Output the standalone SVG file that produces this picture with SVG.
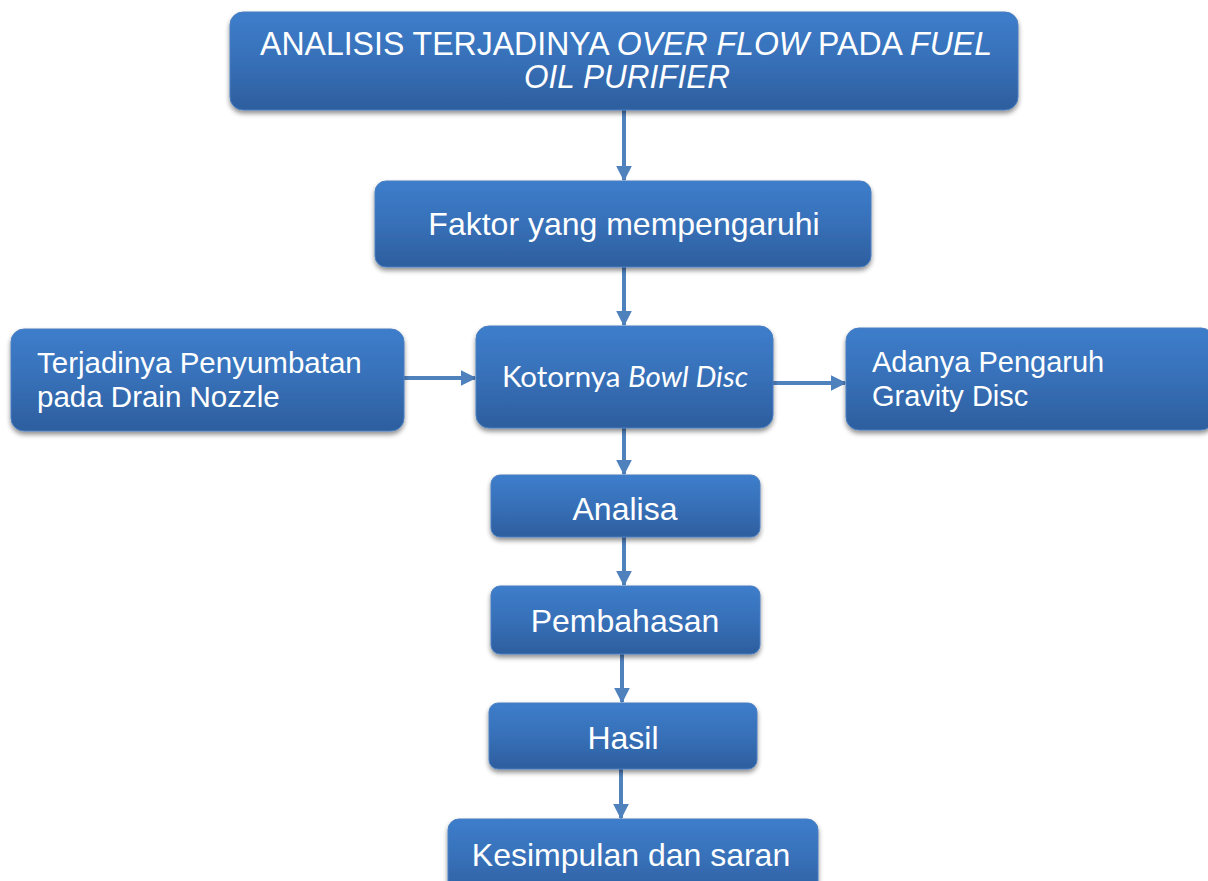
<svg xmlns="http://www.w3.org/2000/svg" width="1208" height="881" viewBox="0 0 1208 881">
  <defs>
    <linearGradient id="boxFill" x1="0" y1="0" x2="0" y2="1">
      <stop offset="0" stop-color="#3d7dcb"/>
      <stop offset="0.5" stop-color="#3770b8"/>
      <stop offset="1" stop-color="#2d5e9e"/>
    </linearGradient>
    <filter id="shadow" x="-10%" y="-20%" width="120%" height="150%">
      <feGaussianBlur in="SourceAlpha" stdDeviation="2.5"/>
      <feOffset dx="0" dy="3" result="b"/>
      <feComponentTransfer><feFuncA type="linear" slope="0.45"/></feComponentTransfer>
      <feMerge><feMergeNode/><feMergeNode in="SourceGraphic"/></feMerge>
    </filter>
    <marker id="arrow" viewBox="0 0 10 10" refX="9" refY="5" markerWidth="4" markerHeight="4" orient="auto" markerUnits="strokeWidth">
      <path d="M0,0 L10,5 L0,10 z" fill="#4f81bd"/>
    </marker>
  </defs>
  <style>
    .box { fill: url(#boxFill); stroke: #4a7fc0; stroke-width: 1; filter: url(#shadow); }
    .t { fill: #ffffff; font-family: "Liberation Sans", Arial, sans-serif; }
    .c { fill: #ffffff; font-family: Lato, "Open Sans", sans-serif; }
    .link { stroke: #4f81bd; stroke-width: 4; fill: none; marker-end: url(#arrow); }
  </style>
  <rect width="1208" height="881" fill="#ffffff"/>

  <g id="connectors">
    <line class="link" x1="624" y1="110" x2="624" y2="180"/>
    <line class="link" x1="624" y1="267" x2="624" y2="325"/>
    <line class="link" x1="404" y1="378" x2="475" y2="378"/>
    <line class="link" x1="773" y1="383" x2="845" y2="383"/>
    <line class="link" x1="624" y1="428" x2="624" y2="474"/>
    <line class="link" x1="624" y1="537" x2="624" y2="585"/>
    <line class="link" x1="622" y1="654" x2="622" y2="702"/>
    <line class="link" x1="621" y1="769" x2="621" y2="818"/>
  </g>

  <g id="node-title">
    <rect class="box" x="230" y="12" width="788" height="98" rx="13"/>
    <text class="t" font-size="33" text-anchor="middle" x="626" y="55" textLength="732" lengthAdjust="spacingAndGlyphs">ANALISIS TERJADINYA <tspan font-style="italic">OVER FLOW</tspan> PADA <tspan font-style="italic">FUEL</tspan></text>
    <text class="t" font-size="33" font-style="italic" text-anchor="middle" x="627" y="88" textLength="206" lengthAdjust="spacingAndGlyphs">OIL PURIFIER</text>
  </g>

  <g id="node-faktor">
    <rect class="box" x="375" y="181" width="496" height="86" rx="11"/>
    <text class="t" font-size="32" text-anchor="middle" x="624" y="235">Faktor yang mempengaruhi</text>
  </g>

  <g id="node-penyumbatan">
    <rect class="box" x="11" y="329" width="393" height="102" rx="13"/>
    <text class="t" font-size="29.5" x="37" y="373">Terjadinya Penyumbatan</text>
    <text class="t" font-size="29.5" x="37" y="407">pada Drain Nozzle</text>
  </g>

  <g id="node-kotornya">
    <rect class="box" x="476" y="326" width="297" height="102" rx="13"/>
    <text class="c" font-size="29.5" text-anchor="middle" x="625" y="387">Kotornya <tspan font-style="italic">Bowl Disc</tspan></text>
  </g>

  <g id="node-gravity">
    <rect class="box" x="846" y="328" width="368" height="102" rx="13"/>
    <text class="t" font-size="29" x="872" y="372">Adanya Pengaruh</text>
    <text class="t" font-size="29" x="872" y="406">Gravity Disc</text>
  </g>

  <g id="node-analisa">
    <rect class="box" x="491" y="475" width="269" height="62" rx="9"/>
    <text class="t" font-size="32" text-anchor="middle" x="625" y="520">Analisa</text>
  </g>

  <g id="node-pembahasan">
    <rect class="box" x="491" y="586" width="269" height="68" rx="9"/>
    <text class="t" font-size="32" text-anchor="middle" x="625" y="632">Pembahasan</text>
  </g>

  <g id="node-hasil">
    <rect class="box" x="489" y="703" width="268" height="66" rx="9"/>
    <text class="t" font-size="32" text-anchor="middle" x="623" y="749">Hasil</text>
  </g>

  <g id="node-kesimpulan">
    <rect class="box" x="448" y="819" width="370" height="80" rx="11"/>
    <text class="t" font-size="32" text-anchor="middle" x="631" y="866">Kesimpulan dan saran</text>
  </g>
</svg>
